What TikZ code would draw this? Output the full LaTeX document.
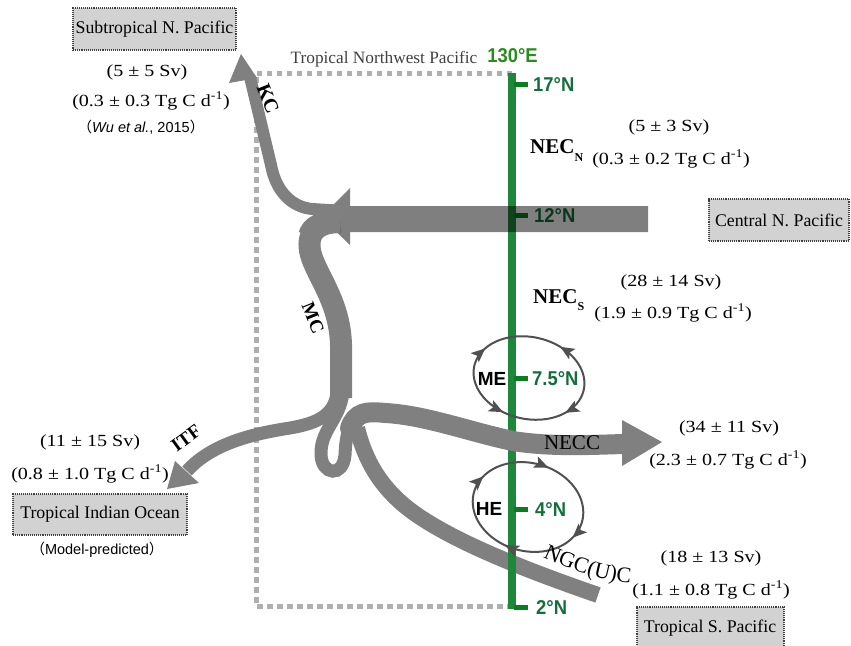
\documentclass[tikz,border=0pt]{standalone}
\usepackage{fontspec}
\setmainfont{Liberation Serif}
\setsansfont{Liberation Sans}
\newfontfamily\numfont[FakeStretch=1.18]{Liberation Serif}
\newfontfamily\regfont{Liberation Serif}
\newfontfamily\latfont[FakeStretch=0.92]{Liberation Sans}
\newfontfamily\cjkfont{Noto Sans CJK SC}
\usetikzlibrary{arrows.meta,decorations.markings,decorations.text}

\definecolor{flowgray}{RGB}{128,128,128}
\definecolor{boxgray}{RGB}{210,210,210}
\definecolor{dotgray}{RGB}{175,175,175}
\definecolor{meridian}{RGB}{30,135,60}
\definecolor{tickgreen}{RGB}{10,125,30}
\definecolor{latgreen}{RGB}{20,110,60}
\definecolor{longreen}{RGB}{40,140,30}
\definecolor{eddygray}{RGB}{80,80,80}

\tikzset{
  flux/.style={font=\numfont\fontsize{17}{20}\selectfont, inner sep=0},
  region/.style={draw=black!75, densely dotted, line width=1.1pt, fill=boxgray,
    font=\regfont\fontsize{17.8}{19}\selectfont, inner sep=0},
  lat/.style={font=\latfont\bfseries\fontsize{20}{20}\selectfont, text=latgreen,
    anchor=west, inner sep=0},
  tickmark/.style={draw=tickgreen, line width=5pt},
  band/.style={draw=flowgray, line width=#1},
  eddy/.style={draw=eddygray, line width=2pt},
  eddylabel/.style={font=\sffamily\bfseries\fontsize{19}{19}\selectfont, inner sep=0},
  curname/.style={font=\fontsize{20}{20}\selectfont\bfseries, inner sep=0},
}
\newcommand{\eddyarrow}{Stealth[length=14pt,width=12pt,inset=3pt]}

\begin{document}
\begin{tikzpicture}[x=1pt,y=-1pt]
\useasboundingbox (0,0) rectangle (851,645);

% ---------- Tropical Northwest Pacific frame ----------
\coordinate (frNE) at (512,73);
\coordinate (frNW) at (256,73);
\coordinate (frSW) at (256,606);
\coordinate (frSE) at (512,606);
\draw[dotgray, line width=5pt, dash pattern=on 5.5pt off 4.5pt]
  (frNE) -- (frNW) -- (frSW) -- (frSE);
\node[font=\regfont\fontsize{17.3}{18}\selectfont, text=black!75, inner sep=0]
  (twp) at (384,59) {Tropical Northwest Pacific};

% ---------- key points of the currents ----------
\coordinate (ngcS)  at (598,595);
\coordinate (ngcN)  at (357,428);
\coordinate (mcTop) at (340,222);
\coordinate (mcBot) at (341,398);
\coordinate (itfA)  at (337,393);
\coordinate (itfB)  at (187,471);
\coordinate (loopA) at (343,392);
\coordinate (loopB) at (370,410);
\coordinate (neccA) at (350,428);
\coordinate (neccB) at (623,444);
\coordinate (kcA)   at (345,211);
\coordinate (kcB)   at (250,77);

% ---------- NGC(U)C (under the meridian) ----------
\draw[band=16] (ngcS) .. controls (520,568) and (450,540) .. (410,510)
  .. controls (380,487) and (365,460) .. (ngcN);

% ---------- 130E meridian ----------
\draw[draw=meridian, line width=8pt] (512,73) coordinate (merN) -- (512,609) coordinate (merS);
\draw[tickmark] (514,84)  -- (528,84);
\draw[tickmark] (514,215) -- (528,215);
\draw[tickmark] (514,378) -- (528,378);
\draw[tickmark] (514,509) -- (528,509);
\draw[tickmark] (514,607) -- (528,607);
\node[font=\latfont\bfseries\fontsize{20}{20}\selectfont, text=longreen, inner sep=0]
  (lon) at (512.5,55.5) {130°E};
\node[lat] (n17) at (533,84.5) {17°N};
\node[lat] (n12) at (534,216) {12°N};
\node[lat] (n75) at (532,379) {7.5°N};
\node[lat] (n4)  at (535,510) {4°N};
\node[lat] (n2)  at (536,607.5) {2°N};

% ---------- MC, ITF, retroflection loop and NECC ----------
\draw[band=22] (mcTop) .. controls (312,222) and (305,238) .. (312,258)
  .. controls (320,280) and (340,305) .. (341,345) -- (mcBot);
\draw[band=13] (itfA) .. controls (334,418) and (312,424) .. (290,428)
  .. controls (258,433) and (213,442) .. (itfB);
\fill[flowgray] (175,461) -- (167,489) -- (199,483) -- cycle;
\draw[band=13] (loopA) .. controls (340,420) and (320,430) .. (321,455)
  .. controls (322,475) and (343,478) .. (345,455)
  .. controls (346,432) and (350,415) .. (loopB);
\draw[band=20, line cap=round] (neccA) .. controls (356,412) and (366,411) .. (385,413);
\draw[band=20] (385,413) .. controls (425,415) and (470,432) .. (513,441)
  .. controls (550,447) and (590,445) .. (neccB);
\fill[flowgray] (622,420) -- (662,442) -- (622,466) -- cycle;

% ---------- NEC (translucent, over the meridian) ----------
\fill[black, fill opacity=0.5] (648,206) -- (350,206) -- (350,188) -- (321,217)
  -- (350,245) -- (350,232) -- (648,232) -- cycle;

% ---------- KC ----------
\draw[band=12] (kcA) -- (312,209) .. controls (292,207) and (276,192) .. (271,165) -- (kcB);
\fill[flowgray] (229,83) -- (241,54) -- (257,78) -- cycle;
\draw[band=22] (mcTop) .. controls (320,222) and (312,226) .. (309,236);

% ---------- mesoscale eddies ----------
\begin{scope}[shift={(529,378)}, rotate=-12]
  \draw[eddy, postaction={decorate}, decoration={markings,
      mark=at position 0.10 with {\arrow{\eddyarrow}},
      mark=at position 0.31 with {\arrowreversed{\eddyarrow}},
      mark=at position 0.57 with {\arrow{\eddyarrow}},
      mark=at position 0.83 with {\arrowreversed{\eddyarrow}}}]
    plot[domain=0:360, samples=121] ({56*cos(\x)}, {41*sin(\x)}) -- cycle;
\end{scope}
\begin{scope}[shift={(528,507)}, rotate=-15]
  \draw[eddy, postaction={decorate}, decoration={markings,
      mark=at position 0.06 with {\arrow{\eddyarrow}},
      mark=at position 0.29 with {\arrow{\eddyarrow}},
      mark=at position 0.56 with {\arrow{\eddyarrow}},
      mark=at position 0.78 with {\arrow{\eddyarrow}}}]
    plot[domain=0:360, samples=121] ({56*cos(\x)}, {44*sin(\x)}) -- cycle;
\end{scope}
\node[eddylabel] (me) at (492,379) {ME};
\node[eddylabel] (he) at (489,509) {HE};

% ---------- current names ----------
\node[curname, rotate=-68] (kc)  at (268,99) {KC};
\node[curname, rotate=-68, font=\fontsize{19}{19}\selectfont\bfseries] (mc) at (313,318) {MC};
\node[curname, rotate=36,  font=\fontsize{19}{19}\selectfont\bfseries] (itf) at (186,438) {ITF};
\node[inner sep=0, font=\fontsize{21}{21}\selectfont] (necc) at (572,443) {NECC};
\node[anchor=base west, inner sep=0, font=\fontsize{21}{21}\selectfont\bfseries] (necn)
  at (530,153) {NEC\raisebox{-8pt}{\fontsize{12}{12}\selectfont N}};
\node[anchor=base west, inner sep=0, font=\fontsize{21}{21}\selectfont\bfseries] (necs)
  at (533,303) {NEC\raisebox{-7pt}{\fontsize{12}{12}\selectfont S}};
\path[decorate, decoration={text along path, text align=center,
    text={|\fontsize{22}{22}\selectfont|NGC(U)C}}]
  (536,554) .. controls (570,570) and (602,582) .. (638,583);

% ---------- regions ----------
\node[region, minimum width=163pt, minimum height=42pt] (stnp) at (154.5,29) {Subtropical N. Pacific};
\node[region, minimum width=140pt, minimum height=42pt] (cnp)  at (779,220) {Central N. Pacific};
\node[region, minimum width=174pt, minimum height=41pt] (tio)  at (100,514.5) {Tropical Indian Ocean};
\node[region, minimum width=147pt, minimum height=45pt] (tsp) at (710.5,629.5) {};
\node[font=\regfont\fontsize{17.8}{19}\selectfont, inner sep=0] (tsplabel) at (710,628) {Tropical S. Pacific};

% ---------- transports ----------
\node[flux] (f1a) at (147,72)  {(5 ± 5 Sv)};
\node[flux] (f1b) at (151,101) {(0.3 ± 0.3 Tg C d\textsuperscript{-1})};
\node[inner sep=0, font=\sffamily\fontsize{14.5}{16}\selectfont] (f1c) at (141,127)
  {{\cjkfont （}\textit{Wu et al.}, 2015{\cjkfont ）}};
\node[flux] (f2a) at (669,127) {(5 ± 3 Sv)};
\node[flux] (f2b) at (671,159) {(0.3 ± 0.2 Tg C d\textsuperscript{-1})};
\node[flux] (f3a) at (671,282) {(28 ± 14 Sv)};
\node[flux] (f3b) at (673,313) {(1.9 ± 0.9 Tg C d\textsuperscript{-1})};
\node[flux] (f4a) at (729,428) {(34 ± 11 Sv)};
\node[flux] (f4b) at (728,460) {(2.3 ± 0.7 Tg C d\textsuperscript{-1})};
\node[flux] (f5a) at (711,558) {(18 ± 13 Sv)};
\node[flux] (f5b) at (711,590) {(1.1 ± 0.8 Tg C d\textsuperscript{-1})};
\node[flux] (f6a) at (90,442)  {(11 ± 15 Sv)};
\node[flux] (f6b) at (90,474)  {(0.8 ± 1.0 Tg C d\textsuperscript{-1})};
\node[inner sep=0, font=\sffamily\fontsize{14.5}{16}\selectfont] (f6c) at (97,550)
  {{\cjkfont （}Model-predicted{\cjkfont ）}};
\end{tikzpicture}
\end{document}
